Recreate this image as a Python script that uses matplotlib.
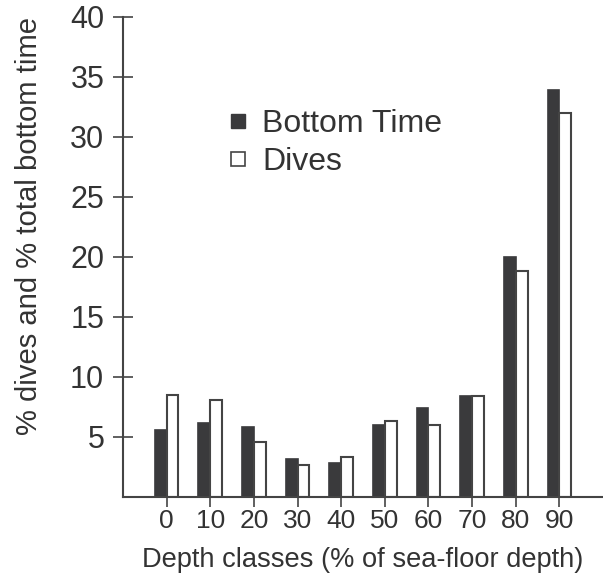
import matplotlib
matplotlib.use("Agg")
import matplotlib.pyplot as plt
import numpy as np
from matplotlib.lines import Line2D

categories = ["0", "10", "20", "30", "40", "50", "60", "70", "80", "90"]
bottom_time = [5.6, 6.2, 5.8, 3.2, 2.8, 6.0, 7.45, 8.4, 20.0, 33.9]
dives = [8.5, 8.1, 4.6, 2.7, 3.3, 6.35, 6.0, 8.4, 18.8, 32.0]
yticks = [5, 10, 15, 20, 25, 30, 35, 40]

plt.rcParams['font.family'] = ['Liberation Sans', 'DejaVu Sans']
txt = '#333333'
edge = '#444444'
dark = '#3a3a3c'

fig = plt.figure(figsize=(6.03, 5.74), dpi=100)
ax = fig.add_axes([123/603, 1-497/574, 1-123/603, (497-17)/574])

x = np.arange(len(categories))
w = 0.27
ax.bar(x, bottom_time, width=-w, align='edge', color=dark, edgecolor=dark, linewidth=1.2)
ax.bar(x, dives, width=w, align='edge', color='white', edgecolor=edge, linewidth=1.5)

ax.set_xlim(-1, 10)
ax.set_ylim(0, 40)
ax.set_xticks(x)
ax.set_xticklabels(categories)
ax.set_yticks(yticks)
ax.tick_params(axis='x', direction='out', length=7, width=1.2, color=edge, labelsize=19, labelcolor=txt, pad=2)
ax.tick_params(axis='y', direction='inout', length=14, width=1.2, color=edge, labelsize=22, labelcolor=txt, pad=6.5)
for s in ['top', 'right']:
    ax.spines[s].set_visible(False)
for s in ['left', 'bottom']:
    ax.spines[s].set_color(edge)
    ax.spines[s].set_linewidth(1.5)

ax.set_xlabel("Depth classes (% of sea-floor depth)", fontsize=19.6, color=txt, labelpad=10)
ax.set_ylabel("% dives and % total bottom time", fontsize=21.1, color=txt)
ax.yaxis.set_label_coords(-0.167, 0.565)

handles = [Line2D([], [], marker='s', linestyle='none', markersize=9.5,
                  markerfacecolor=dark, markeredgecolor=dark, markeredgewidth=1.0),
           Line2D([], [], marker='s', linestyle='none', markersize=9.5,
                  markerfacecolor='white', markeredgecolor=edge, markeredgewidth=1.2)]
leg = ax.legend(handles, ["Bottom Time", "Dives"], loc='center left',
                bbox_to_anchor=(0.223, 0.738), frameon=False, fontsize=23,
                handlelength=0.5, handletextpad=0.5,
                labelspacing=0.25, borderaxespad=0, borderpad=0)
for t in leg.get_texts():
    t.set_color(txt)

fig.savefig("out.png", dpi=100)
